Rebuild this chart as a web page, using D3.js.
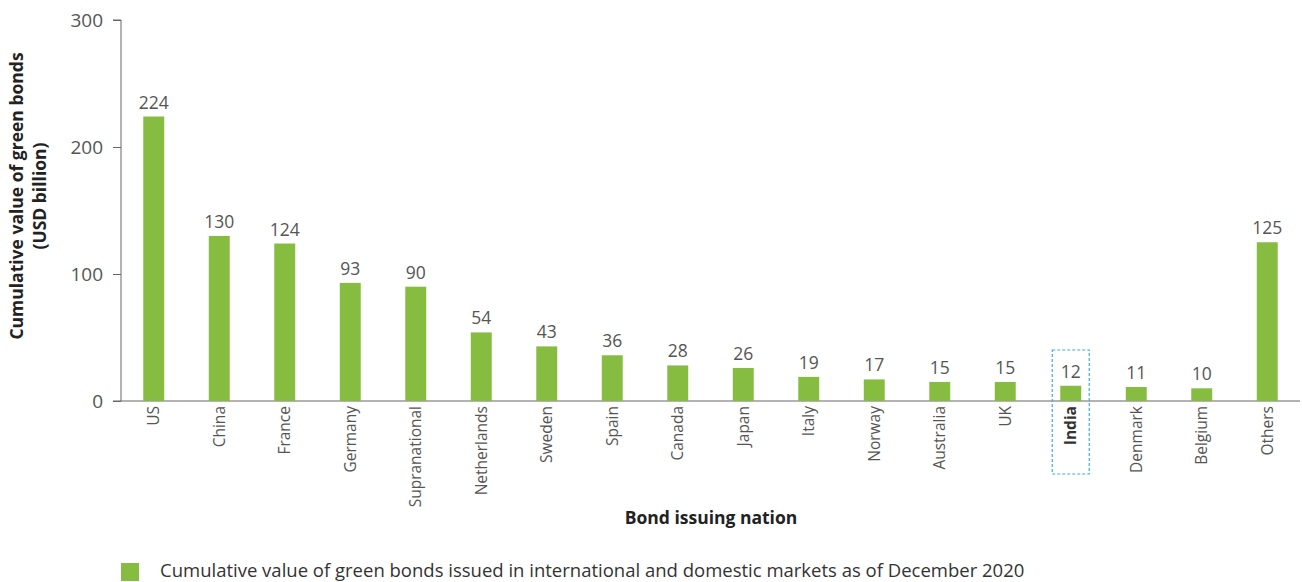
<!DOCTYPE html>
<html>
<head>
<meta charset="utf-8">
<script src="https://cdn.jsdelivr.net/npm/d3@7"></script>
<style>
  body { margin: 0; background: #fff; }
  text { font-family: "Open Sans", Lato, sans-serif; }
</style>
</head>
<body>
<svg id="chart" width="1302" height="582"></svg>
<script>
const nations = ['US','China','France','Germany','Supranational','Netherlands','Sweden','Spain','Canada','Japan','Italy','Norway','Australia','UK','India','Denmark','Belgium','Others']
const values = [224,130,124,93,90,54,43,36,28,26,19,17,15,15,12,11,10,125]
const yTicks = [0,100,200,300]
const highlight = 'India'
const legendLabel = 'Cumulative value of green bonds issued in international and domestic markets as of December 2020'

const svg = d3.select('#chart')
const green = '#86bc40'
const axisGrey = '#666'

const x = d3.scaleBand()
  .domain(nations)
  .range([121, 1300])
  .paddingInner(0.68)
  .paddingOuter(0.34)
const y = d3.scaleLinear().domain([0, 300]).range([401, 20])

// y axis
const yAxis = svg.append('g')
  .attr('transform', 'translate(121,0)')
  .call(d3.axisLeft(y).tickValues(yTicks).tickSize(8).tickPadding(10))
yAxis.select('.domain').attr('stroke', axisGrey).attr('d', 'M-8,20H0V401')
yAxis.selectAll('.tick line').attr('stroke', axisGrey)
yAxis.selectAll('.tick text').attr('fill', '#555').style('font-size', '19px')

// x axis
const xAxis = svg.append('g')
  .attr('transform', 'translate(0,401)')
  .call(d3.axisBottom(x).tickSize(0).tickPadding(8))
xAxis.select('.domain').attr('stroke', axisGrey).attr('d', 'M113,0H1300')
xAxis.selectAll('.tick text')
  .style('font-size', '15.5px')
  .attr('text-anchor', 'end')
  .attr('transform', 'rotate(-90)')
  .attr('x', -5)
  .attr('y', 0)
  .attr('dy', '0.35em')
  .style('font-weight', d => d === highlight ? 'bold' : null)
  .attr('fill', d => d === highlight ? '#333' : '#555')

// bars
svg.append('g').selectAll('rect')
  .data(nations)
  .join('rect')
  .attr('x', d => x(d))
  .attr('width', x.bandwidth())
  .attr('y', (d, i) => y(values[i]))
  .attr('height', (d, i) => y(0) - y(values[i]))
  .attr('fill', green)

// value labels
svg.append('g').selectAll('text')
  .data(nations)
  .join('text')
  .attr('x', d => x(d) + x.bandwidth() / 2)
  .attr('y', (d, i) => y(values[i]) - 8)
  .attr('text-anchor', 'middle')
  .attr('fill', '#555')
  .style('font-size', '17.5px')
  .text((d, i) => values[i])

// dashed highlight box around India
const hx = x(highlight) + x.bandwidth() / 2
svg.append('rect')
  .attr('x', hx - 18.5)
  .attr('y', 350)
  .attr('width', 37)
  .attr('height', 124)
  .attr('fill', 'none')
  .attr('stroke', '#3aaee0')
  .attr('stroke-width', 1.2)
  .attr('stroke-dasharray', '3,2')

// axis titles
svg.append('text')
  .attr('transform', 'translate(23,196) rotate(-90)')
  .attr('text-anchor', 'middle')
  .attr('fill', '#222')
  .style('font-size', '17.5px')
  .style('font-weight', 'bold')
  .selectAll('tspan')
  .data(['Cumulative value of green bonds', '(USD billion)'])
  .join('tspan')
  .attr('x', 0)
  .attr('dy', (d, i) => i ? '1.3em' : 0)
  .text(d => d)

svg.append('text')
  .attr('x', 711)
  .attr('y', 524)
  .attr('text-anchor', 'middle')
  .attr('fill', '#222')
  .style('font-size', '17.5px')
  .style('font-weight', 'bold')
  .text('Bond issuing nation')

// legend
svg.append('rect')
  .attr('x', 121).attr('y', 563).attr('width', 18).attr('height', 18)
  .attr('fill', green)
svg.append('text')
  .attr('x', 160).attr('y', 577)
  .attr('fill', '#333')
  .style('font-size', '18.5px')
  .text(legendLabel)
</script>
</body>
</html>
